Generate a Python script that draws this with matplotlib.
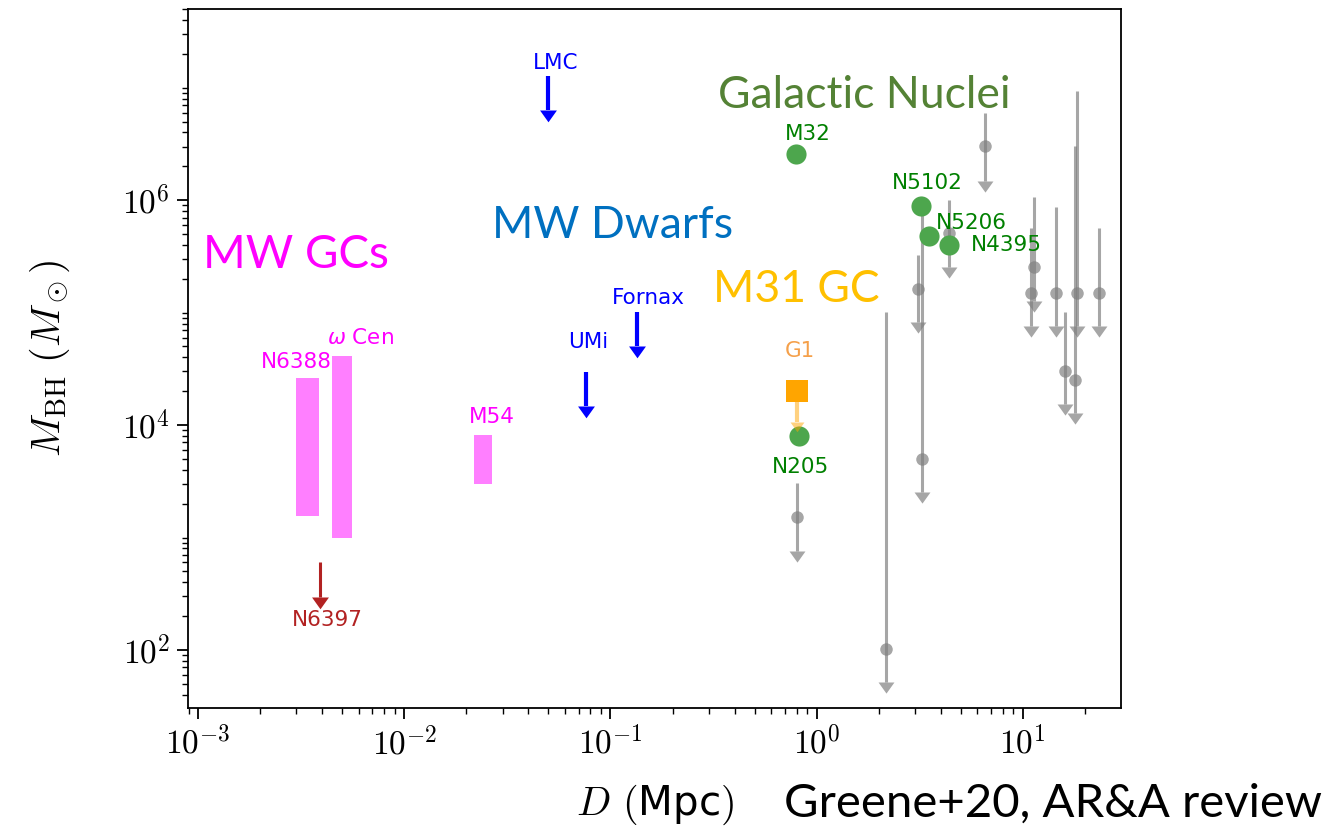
import numpy as np
import matplotlib
matplotlib.use('Agg')
import matplotlib.pyplot as plt
from matplotlib.ticker import FixedLocator, LogLocator, FuncFormatter, NullFormatter

plt.rcParams['mathtext.fontset'] = 'cm'
plt.rcParams['font.family'] = 'DejaVu Sans'

# MW globular clusters: mass ranges (bars)
gc_names = ['N6388', r'$\omega$ Cen', 'M54']
gc_d_lo = [0.00298, 0.00446, 0.0217]
gc_d_hi = [0.00385, 0.00557, 0.0266]
gc_m_lo = [1550, 990, 2990]
gc_m_hi = [26200, 41000, 8150]

# upper limits drawn as solid arrows (MW dwarfs + N6397)
lim_names = ['LMC', 'Fornax', 'UMi', 'N6397']
lim_d = [0.0497, 0.134, 0.0759, 0.0039]
lim_top = [1.26e7, 1.01e5, 2.96e4, 605]
lim_base = [6.3e6, 5.04e4, 1.48e4, 296]
lim_colors = ['blue', 'blue', 'blue', 'firebrick']

# galactic nuclei with detections
gn_names = ['M32', 'N205', 'N5102', 'N5206', 'N4395']
gn_d = [0.79, 0.818, 3.19, 3.49, 4.36]
gn_m = [2.56e6, 7980, 8.85e5, 4.79e5, 3.98e5]

# M31 globular cluster G1
g1_d = [0.80]
g1_m = [2.0e4]
g1_lo = [1.06e4]

# other nuclei (grey): value, top of range, bottom (upper limit)
ul_d = [6.52, 3.09, 3.26, 4.36, 2.18, 0.80, 11.3, 10.9, 14.4, 18.4, 18.0, 16.1, 23.3]
ul_top = [5.93e6, 3.25e5, 8.1e5, 1.0e6, 1.01e5, 3050, 1.06e6, 5.64e5, 8.67e5,
          9.3e6, 3.02e6, 1.01e5, 5.64e5]
ul_m = [3.02e6, 1.62e5, 4990, 5.09e5, 102, 1520, 2.54e5, 1.49e5, 1.49e5,
        1.49e5, 2.51e4, 3.02e4, 1.49e5]
ul_base = [1.48e6, 8.2e4, 2540, 2.54e5, 52, 759, 1.27e5, 7.6e4, 7.6e4,
           7.6e4, 1.28e4, 1.54e4, 7.6e4]

W, H = 1329, 831
fig = plt.figure(figsize=(W / 100, H / 100), dpi=100)
ax = fig.add_axes([188 / W, 1 - 708 / H, (1121 - 188) / W, (708 - 9) / H])
ax.set_xscale('log')
ax.set_yscale('log')

head = [(-1, 0), (1, 0), (0, -1.4)]  # arrow head with base at the point
lab = dict(textcoords='offset points', ha='center', va='center', fontsize=15.5)

# grey upper limits
ax.vlines(ul_d, ul_base, ul_top, color='gray', alpha=0.7, lw=2.2, zorder=2)
ax.plot(ul_d, ul_m, 'o', color='gray', alpha=0.7, ms=9, mew=0, zorder=2)
ax.plot(ul_d, ul_base, ls='none', marker=head, color='gray', alpha=0.7,
        ms=16, mew=0, zorder=2)

# GC bars
for lo, hi, mlo, mhi in zip(gc_d_lo, gc_d_hi, gc_m_lo, gc_m_hi):
    ax.fill_between([lo, hi], mlo, mhi, color='magenta', alpha=0.5, lw=0, zorder=2)
for name, lo, hi, mhi, off in zip(gc_names, gc_d_lo, gc_d_hi, gc_m_hi,
                                   [(-7.6, 11.5), (13, 13), (6.5, 13)]):
    xc = np.sqrt(lo * hi)
    ax.annotate(name, (xc, mhi), xytext=off, color='magenta',
                math_fontfamily='dejavusans', **lab)

# arrows (dwarfs, N6397)
for name, d, top, base, c, off in zip(lim_names, lim_d, lim_top, lim_base, lim_colors,
                                       [(5.8, 9.4), (8.6, 10), (2, 21.6), (5, -16.5)]):
    lw = 3 if c == 'blue' else 2.2
    ax.vlines(d, base, top, color=c, lw=lw, zorder=3)
    ax.plot([d], [base], ls='none', marker=head, color=c, ms=17, mew=0, zorder=3)
    ref = base if name == 'N6397' else top
    ax.annotate(name, (d, ref), xytext=off, color=c, **lab)

# galactic nuclei detections
ax.plot(gn_d, gn_m, 'o', color='#4da64d', ms=14.5, mew=0, zorder=4)
for name, d, m, off in zip(gn_names, gn_d, gn_m,
                           [(8.6, 14.4), (1.4, -22), (5, 17), (31, 9.4), (42, 0)]):
    ax.annotate(name, (d, m), xytext=off, color='green', **lab)

# G1
ax.vlines(g1_d, g1_lo, g1_m, color='orange', alpha=0.5, lw=3, zorder=5)
ax.plot(g1_d, g1_lo, ls='none', marker=head, color='orange', alpha=0.5,
        ms=14, mew=0, zorder=5)
ax.plot(g1_d, g1_m, 's', color='orange', ms=16, mew=0, zorder=6)
ax.annotate('G1', (g1_d[0], g1_m[0]), xytext=(2, 29), color='#f5a04a', **lab)

ax.set_xlim(10 ** -3.049, 10 ** 1.476)
ax.set_ylim(10 ** 1.484, 10 ** 7.70)

ax.yaxis.set_major_locator(FixedLocator([1e2, 1e4, 1e6]))
ax.yaxis.set_minor_locator(LogLocator(base=10, subs=np.arange(1, 10), numticks=50))
ax.yaxis.set_minor_formatter(NullFormatter())
fmt = FuncFormatter(lambda v, p: r'$10^{%d}$' % round(np.log10(v)))
ax.xaxis.set_major_formatter(fmt)
ax.yaxis.set_major_formatter(fmt)
ax.tick_params(which='major', length=8, width=1.3, labelsize=24, pad=5)
ax.tick_params(which='minor', length=4.5, width=1.0)
for s in ax.spines.values():
    s.set_linewidth(1.3)

ax.set_xlabel(r'$D$ $($Mpc$)$', fontsize=29)
ax.xaxis.set_label_coords(0.5, -0.107)
ax.set_ylabel(r'$M_{\rm BH}\ (M_\odot)$', fontsize=29)
ax.yaxis.set_label_coords(-0.124, 0.5)

# category labels
big = dict(family='Lato', fontsize=32, ha='left', va='baseline')
fig.text(203 / W, 1 - 268 / H, 'MW GCs', color='#FF00FF', fontsize=33,
         **{k: v for k, v in big.items() if k != 'fontsize'})
fig.text(492 / W, 1 - 238 / H, 'MW Dwarfs', color='#0070C0', **big)
fig.text(718 / W, 1 - 108 / H, 'Galactic Nuclei', color='#548235', **big)
fig.text(713 / W, 1 - 302 / H, 'M31 GC', color='#FFC000', **big)
fig.text(1322 / W, 1 - 817 / H, 'Greene+20, AR&A review', color='black',
         family='Lato', fontsize=34, ha='right', va='baseline')

fig.savefig('out.png', dpi=100)
